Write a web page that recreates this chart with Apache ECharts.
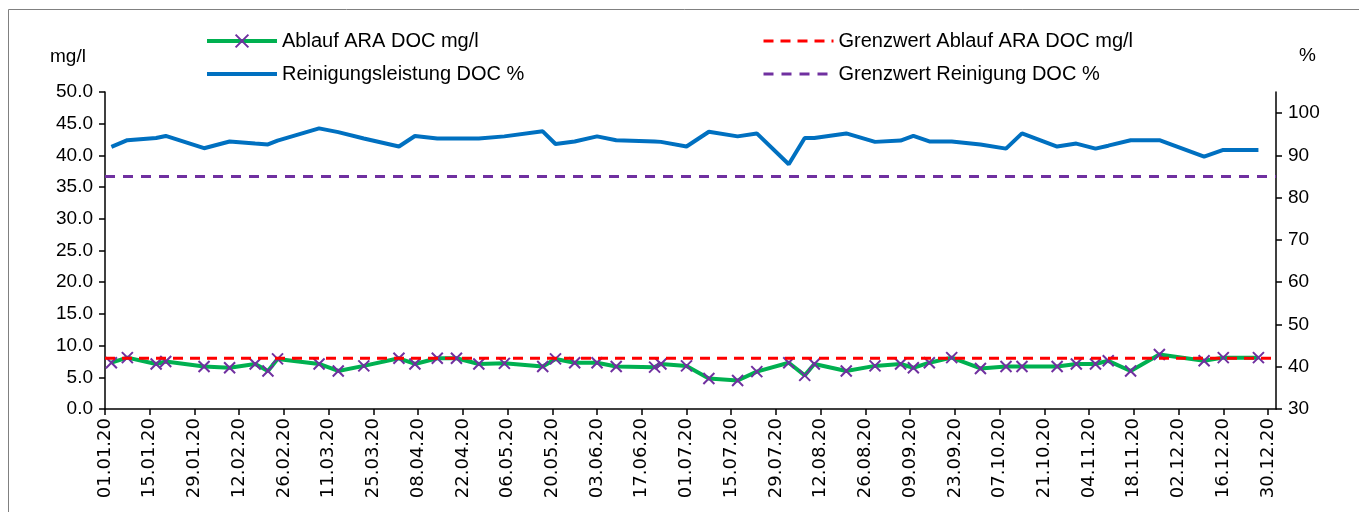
<!DOCTYPE html>
<html>
<head>
<meta charset="utf-8">
<script src="https://cdn.jsdelivr.net/npm/echarts@6/dist/echarts.min.js"></script>
<style>html,body{margin:0;padding:0;background:#fff;}#chart{width:1359px;height:512px;}</style>
</head>
<body>
<div id="chart"></div>
<script>
// ---- data ----
const sampleDates = [
  '2020-01-03','2020-01-08','2020-01-17','2020-01-20','2020-02-01','2020-02-09','2020-02-17','2020-02-21','2020-02-24','2020-03-08',
  '2020-03-14','2020-03-22','2020-04-02','2020-04-07','2020-04-14','2020-04-20','2020-04-27','2020-05-05','2020-05-17','2020-05-21',
  '2020-05-27','2020-06-03','2020-06-09','2020-06-21','2020-06-23','2020-07-01','2020-07-08','2020-07-17','2020-07-23','2020-08-02',
  '2020-08-07','2020-08-10','2020-08-20','2020-08-29','2020-09-06','2020-09-10','2020-09-15','2020-09-22','2020-10-01','2020-10-09',
  '2020-10-14','2020-10-25','2020-10-31','2020-11-06','2020-11-10','2020-11-17','2020-11-26','2020-12-10','2020-12-16','2020-12-27'
];
const ablaufDOC = [
  7.3, 8.1, 7.1, 7.5, 6.7, 6.5, 7.1, 6.0, 7.9, 7.1,
  6.0, 6.8, 8.0, 7.1, 8.0, 8.0, 7.1, 7.2, 6.7, 7.9,
  7.3, 7.3, 6.7, 6.6, 7.1, 6.8, 4.8, 4.5, 5.9, 7.3,
  5.3, 7.1, 6.0, 6.8, 7.1, 6.5, 7.3, 8.1, 6.4, 6.7,
  6.7, 6.7, 7.1, 7.1, 7.6, 6.0, 8.6, 7.6, 8.1, 8.1
];
const reinigungDOC = [
  92.0, 93.6, 94.1, 94.6, 91.7, 93.3, 92.8, 92.6, 93.5, 96.4,
  95.5, 94.0, 92.1, 94.6, 94.0, 94.0, 94.0, 94.5, 95.7, 92.7,
  93.3, 94.5, 93.6, 93.3, 93.2, 92.1, 95.6, 94.5, 95.2, 87.9,
  94.1, 94.1, 95.2, 93.2, 93.5, 94.6, 93.3, 93.3, 92.6, 91.6,
  95.2, 92.1, 92.8, 91.6, 92.3, 93.6, 93.6, 89.7, 91.3, 91.3
];
const grenzwertAblauf = 8;
const grenzwertReinigung = 85;
const axisStartDate = '2020-01-01';
const axisEndDays = 366.5;
const tickStepDays = 14;
const leftAxisRange = [0, 50, 5];
const rightAxisRange = [30, 105, 10];
const rightTickValues = [30, 40, 50, 60, 70, 80, 90, 100];

// ---- helpers ----
const DAY = 86400000;
const t0 = Date.parse(axisStartDate + 'T00:00:00Z');
const toDays = s => (Date.parse(s + 'T00:00:00Z') - t0) / DAY;
const fmtDate = v => {
  const d = new Date(t0 + Math.round(v) * DAY);
  const p = n => String(n).padStart(2, '0');
  return p(d.getUTCDate()) + '.' + p(d.getUTCMonth() + 1) + '.' + String(d.getUTCFullYear()).slice(2);
};
const xTickValues = [];
for (let v = 0; v <= axisEndDays; v += tickStepDays) xTickValues.push(v);

const font = '"Liberation Sans",Arial,sans-serif';
const axisBlack = { show: true, lineStyle: { color: '#000', width: 1.5 } };
const hiddenSymbol = { opacity: 0 };

const chart = echarts.init(document.getElementById('chart'), null, { renderer: 'canvas' });
chart.setOption({
  animation: false,
  backgroundColor: '#fff',
  grid: { left: 105, right: 83, top: 92, bottom: 103, containLabel: false },
  graphic: [
    { type: 'rect', shape: { x: 8.5, y: 9.5, width: 1400, height: 600 }, style: { fill: 'none', stroke: '#808080', lineWidth: 1 }, silent: true },
    { type: 'text', left: 50, top: 47, style: { text: 'mg/l', font: '19px ' + font, fill: '#000' } },
    { type: 'text', left: 1299, top: 46, style: { text: '%', font: '19px ' + font, fill: '#000' } }
  ],
  legend: [
    {
      left: 200, top: 26, orient: 'vertical', itemGap: 13, itemWidth: 70, itemHeight: 16,
      lineStyle: { width: 4 },
      data: [
        { name: 'Ablauf ARA DOC mg/l' },
        { name: 'Reinigungsleistung DOC %', itemStyle: hiddenSymbol }
      ],
      textStyle: { fontFamily: font, fontSize: 20, color: '#000' }
    },
    {
      left: 757, top: 26, orient: 'vertical', itemGap: 13, itemWidth: 70, itemHeight: 16,
      lineStyle: { width: 3 },
      data: [
        { name: 'Grenzwert Ablauf ARA DOC mg/l', itemStyle: hiddenSymbol },
        { name: 'Grenzwert Reinigung DOC %', itemStyle: hiddenSymbol }
      ],
      textStyle: { fontFamily: font, fontSize: 20, color: '#000' }
    }
  ],
  xAxis: {
    type: 'value', min: 0, max: axisEndDays, interval: tickStepDays,
    axisLine: axisBlack,
    axisTick: { show: true, length: 6, lineStyle: { color: '#000', width: 1.5 }, customValues: xTickValues },
    splitLine: { show: false },
    axisLabel: {
      rotate: 90, margin: 9, customValues: xTickValues,
      fontFamily: '"DejaVu Sans",sans-serif', fontSize: 18, color: '#000',
      formatter: v => fmtDate(v)
    }
  },
  yAxis: [
    {
      type: 'value', min: leftAxisRange[0], max: leftAxisRange[1], interval: leftAxisRange[2],
      axisLine: axisBlack,
      axisTick: { show: true, length: 6, lineStyle: { color: '#000', width: 1.5 } },
      splitLine: { show: false },
      axisLabel: { margin: 12, fontFamily: font, fontSize: 19, color: '#000', formatter: v => v.toFixed(1) }
    },
    {
      type: 'value', min: rightAxisRange[0], max: rightAxisRange[1], interval: rightAxisRange[2],
      position: 'right',
      axisLine: axisBlack,
      axisTick: { show: true, length: 6, lineStyle: { color: '#000', width: 1.5 }, customValues: rightTickValues },
      splitLine: { show: false },
      axisLabel: { margin: 12, customValues: rightTickValues, fontFamily: font, fontSize: 19, color: '#000' }
    }
  ],
  series: [
    {
      name: 'Ablauf ARA DOC mg/l', type: 'line', yAxisIndex: 0,
      data: sampleDates.map((d, i) => [toDays(d), ablaufDOC[i]]),
      symbol: 'path://M0 0L10 10M10 0L0 10', symbolSize: 11, showSymbol: true,
      lineStyle: { color: '#00B050', width: 4 },
      itemStyle: { color: '#7030A0', borderColor: '#7030A0', borderWidth: 2 },
      z: 3
    },
    {
      name: 'Grenzwert Ablauf ARA DOC mg/l', type: 'line', yAxisIndex: 0,
      data: [[0, grenzwertAblauf], [axisEndDays, grenzwertAblauf]],
      symbol: 'none', lineStyle: { color: '#FF0000', width: 3, type: [10, 7] },
      itemStyle: { color: '#FF0000' }, z: 4
    },
    {
      name: 'Reinigungsleistung DOC %', type: 'line', yAxisIndex: 1,
      data: sampleDates.map((d, i) => [toDays(d), reinigungDOC[i]]),
      symbol: 'none', lineStyle: { color: '#0070C0', width: 4 },
      itemStyle: { color: '#0070C0' }, z: 3
    },
    {
      name: 'Grenzwert Reinigung DOC %', type: 'line', yAxisIndex: 1,
      data: [[0, grenzwertReinigung], [axisEndDays, grenzwertReinigung]],
      symbol: 'none', lineStyle: { color: '#7030A0', width: 3, type: [10, 8] },
      itemStyle: { color: '#7030A0' }, z: 3
    }
  ]
});
</script>
</body>
</html>
